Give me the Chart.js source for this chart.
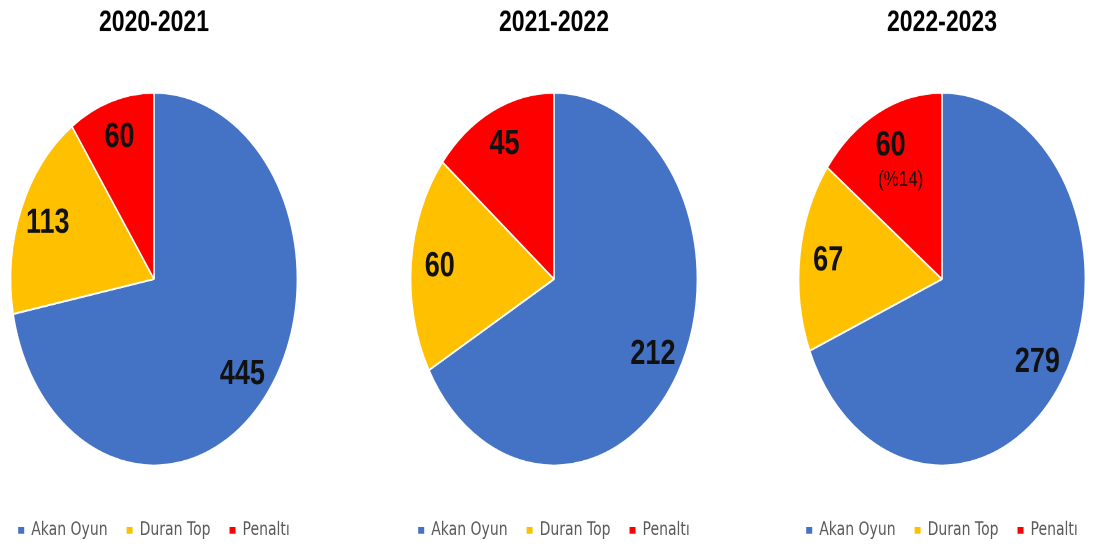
<!DOCTYPE html>
<html>
<head>
<meta charset="utf-8">
<script src="https://cdn.jsdelivr.net/npm/chart.js@4/dist/chart.umd.min.js"></script>
<style>
  html, body { margin: 0; padding: 0; background: #fff; }
  body { width: 1093px; height: 548px; overflow: hidden; position: relative; }
  .pie-box {
    position: absolute;
    top: 0;
    width: 340px;
    height: 425px;
    transform: scaleY(1.3);
    transform-origin: top left;
  }
</style>
</head>
<body>
<div class="pie-box" style="left:-16px"><canvas id="pie0"></canvas></div>
<div class="pie-box" style="left:384px"><canvas id="pie1"></canvas></div>
<div class="pie-box" style="left:772px"><canvas id="pie2"></canvas></div>

<script>
// goals by type, one pie per season
const seasons = ["2020-2021", "2021-2022", "2022-2023"];
const goalTypes = ["Akan Oyun", "Duran Top", "Penaltı"];
const akanOyun = [445, 212, 279];
const duranTop = [113, 60, 67];
const penalti = [60, 45, 60];
// penalty share note is only printed on the last season
const showPenaltyShare = [false, false, true];

const sliceColors = ["#4472C4", "#FFC000", "#FF0000"];

// value labels inside the slices, drawn from the arc geometry
const sliceLabels = {
  id: "sliceLabels",
  afterDatasetsDraw(chart, args, opts) {
    const ctx = chart.ctx;
    const values = chart.data.datasets[0].data;
    const total = values.reduce((a, b) => a + b, 0);
    chart.getDatasetMeta(0).data.forEach((arc, i) => {
      const mid = (arc.startAngle + arc.endAngle) / 2;
      const r = arc.outerRadius * 0.8;
      const x = arc.x + Math.cos(mid) * r;
      const y = arc.y + Math.sin(mid) * r;
      ctx.save();
      ctx.fillStyle = "#111";
      ctx.textAlign = "center";
      ctx.textBaseline = "middle";
      ctx.font = "bold 27px 'Liberation Sans', Arial, sans-serif";
      ctx.fillText(values[i], x, y);
      if (opts.shareIndex === i) {
        const pct = Math.floor(values[i] / total * 100);
        ctx.font = "17px 'Liberation Sans', Arial, sans-serif";
        ctx.fillText("(%" + pct + ")", x + 10, y + 26);
      }
      ctx.restore();
    });
  }
};

const defaultLabels = Chart.overrides.pie.plugins.legend.labels.generateLabels;

seasons.forEach((season, k) => {
  new Chart(document.getElementById("pie" + k), {
    type: "pie",
    data: {
      labels: goalTypes,
      datasets: [{
        data: [akanOyun[k], duranTop[k], penalti[k]],
        backgroundColor: sliceColors,
        borderColor: "#fff",
        borderWidth: 1.5
      }]
    },
    options: {
      responsive: true,
      maintainAspectRatio: false,
      devicePixelRatio: 2,
      animation: false,
      layout: { padding: 0 },
      plugins: {
        title: {
          display: true,
          text: season,
          color: "#000",
          font: { family: "'Liberation Sans', Arial, sans-serif", size: 23, weight: "bold" },
          padding: { top: 4, bottom: 39 }
        },
        legend: {
          position: "bottom",
          // empty title only used as a spacer above the legend row
          title: { display: true, text: "", font: { size: 1 }, padding: { top: 22, bottom: 0 } },
          labels: {
            boxWidth: 6,
            boxHeight: 5,
            padding: 19,
            color: "#595959",
            font: { family: "'DejaVu Sans', sans-serif", size: 14 },
            generateLabels(chart) {
              return defaultLabels(chart).map(l => Object.assign(l, { lineWidth: 0 }));
            }
          }
        },
        tooltip: { enabled: false },
        sliceLabels: { shareIndex: showPenaltyShare[k] ? 2 : -1 }
      }
    },
    plugins: [sliceLabels]
  });
});
</script>
</body>
</html>
